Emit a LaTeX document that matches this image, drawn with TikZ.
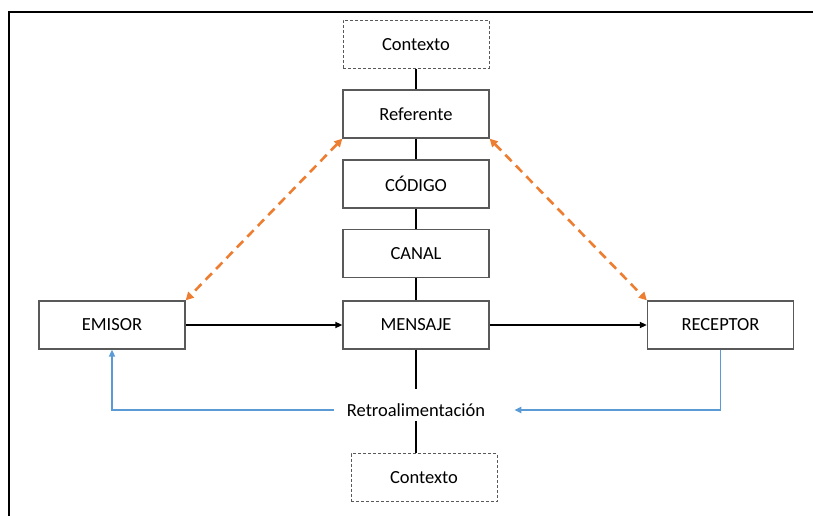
\documentclass[tikz,border=0pt]{standalone}
\usepackage{fontspec}
\setmainfont{Carlito}
\usetikzlibrary{arrows.meta}
\definecolor{boxgray}{HTML}{595959}
\definecolor{naranja}{HTML}{ED7D31}
\definecolor{azul}{HTML}{5B9BD5}
\begin{document}
\begin{tikzpicture}[x=1pt,y=-1pt,
    caja/.style={draw=boxgray,line width=1.3pt,minimum width=146pt,minimum height=48pt,font=\fontsize{18.5}{20}\selectfont},
    ctx/.style={caja,dashed,dash pattern=on 3pt off 2pt,line width=1pt},
    texto/.style={inner xsep=13pt,inner ysep=14pt,font=\fontsize{18.5}{20}\selectfont},
    flecha/.style={-{Triangle[length=7pt,width=6pt]}},
    ida/.style={{Triangle[length=8pt,width=8pt]}-{Triangle[length=8pt,width=8pt]},naranja,line width=2.6pt,dash pattern=on 9pt off 6pt},
    vuelta/.style={-{Triangle[length=7pt,width=6pt]},azul,line width=1.8pt}]
      \useasboundingbox (0,0) rectangle (813,516);
      \draw[line width=1.6pt] (813,12) -- (9,12) -- (9,516);
      \draw
        (416,44.5) node[ctx] (ctx1){Contexto}
        (416,114) node[caja] (ref){Referente}
        (416,184) node[caja] (cod){CÓDIGO}
        (416,253.5) node[caja] (can){CANAL}
        (416,325) node[caja] (men){MENSAJE}
        (112,325) node[caja] (emi){EMISOR}
        (720.5,325) node[caja] (rec){RECEPTOR}
        (416,410) node[texto] (ret){Retroalimentación}
        (424,477.5) node[ctx] (ctx2){Contexto};
      \begin{scope}[line width=1.6pt]
        \draw (ctx1) to (ref);
        \draw (ref) to (cod);
        \draw (cod) to (can);
        \draw (can) to (men);
        \draw (men) to (ret);
        \draw ([yshift=-11pt]ret.center) to (ret.center |- ctx2.north);
        \draw[flecha] (emi) to (men);
        \draw[flecha] (men) to (rec);
      \end{scope}
      \draw[ida] (ref.south west) to (emi.north east);
      \draw[ida] (ref.south east) to (rec.north west);
      \draw[vuelta] (ret.west) -| (emi.south);
      \draw[vuelta] (rec.south) |- ([xshift=16pt]ret.east);
    \end{tikzpicture}
\end{document}
